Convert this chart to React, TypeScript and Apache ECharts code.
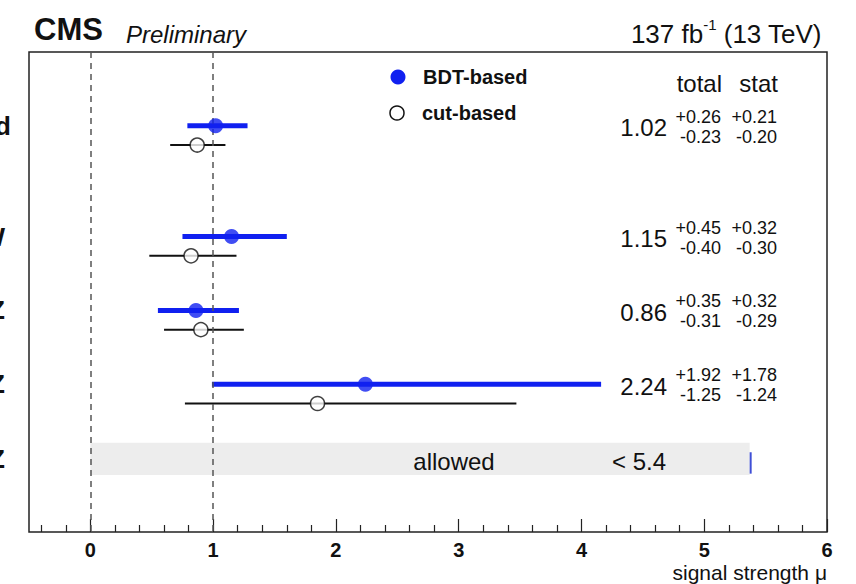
import React, { useEffect, useRef } from "react";
import * as echarts from "echarts";

// ---- data ----
const rows = ["Combined", "WWW", "WWZ", "WZZ", "ZZZ"];
const rowPos = [1.0, 2.5, 3.5, 4.5, 5.51];
const cutOffset = 0.26;

const bdtMu = [1.02, 1.15, 0.86, 2.24];
const totUp = [0.26, 0.45, 0.35, 1.92];
const totDn = [0.23, 0.40, 0.31, 1.25];
const statUp = [0.21, 0.32, 0.32, 1.78];
const statDn = [0.20, 0.30, 0.29, 1.24];

const cutMu = [0.87, 0.82, 0.90, 1.85];
const cutLo = [0.65, 0.48, 0.60, 0.77];
const cutHi = [1.10, 1.19, 1.25, 3.47];

const zzzLimit = 5.37;
const zzzLimitLabel = "< 5.4";

const majorTicks = [0, 1, 2, 3, 4, 5, 6];
const minorTicks: number[] = [];
for (let i = -2; i <= 30; i++) {
  if (i % 5 !== 0) minorTicks.push(Math.round(i * 20) / 100);
}

const BLUE = "#1020f0";
const FONT = "'Liberation Sans', Arial, Helvetica, sans-serif";

export default function App() {
  const ref = useRef<HTMLDivElement>(null);
  useEffect(() => {
    if (!ref.current) return;
    const chart = echarts.init(ref.current, null, { renderer: "svg" });

    const bdtBars = bdtMu.map((m, i) => [m - totDn[i], m + totUp[i], rowPos[i]]);
    const cutBars = cutMu.map((m, i) => [cutLo[i], cutHi[i], rowPos[i] + cutOffset]);

    const errRender = (color: string, width: number) => (params: any, api: any) => {
      const a = api.coord([api.value(0), api.value(2)]);
      const b = api.coord([api.value(1), api.value(2)]);
      return {
        type: "line",
        shape: { x1: a[0], y1: a[1], x2: b[0], y2: b[1] },
        style: { stroke: color, lineWidth: width },
      };
    };

    const gridBox = { left: 29, top: 52, width: 798, height: 480, containLabel: false, outerBoundsMode: "none" };

    const option: any = {
      animation: false,
      backgroundColor: "#fff",
      textStyle: { fontFamily: FONT },
      grid: [
        {
          ...gridBox,
          show: true,
          borderColor: "#222",
          borderWidth: 1.5,
          backgroundColor: "transparent",
        },
        { ...gridBox, show: false },
      ],
      xAxis: [
        {
          type: "value",
          gridIndex: 0,
          min: -0.5,
          max: 6,
          position: "bottom",
          axisLine: { show: false, onZero: false },
          splitLine: { show: false },
          axisTick: {
            show: true,
            inside: true,
            length: 13,
            customValues: majorTicks,
            lineStyle: { color: "#222", width: 1.2 },
          },
          axisLabel: {
            customValues: majorTicks,
            fontWeight: "bold",
            fontSize: 20,
            color: "#111",
            margin: 8,
            fontFamily: FONT,
          },
        },
        {
          type: "value",
          gridIndex: 1,
          min: -0.5,
          max: 6,
          position: "bottom",
          axisLine: { show: false, onZero: false },
          splitLine: { show: false },
          axisTick: {
            show: true,
            inside: true,
            length: 7,
            customValues: minorTicks,
            lineStyle: { color: "#222", width: 1.2 },
          },
          axisLabel: { show: true, customValues: minorTicks, formatter: () => "" },
        },
      ],
      yAxis: [
        {
          type: "value",
          gridIndex: 0,
          inverse: true,
          min: 0,
          max: 6.5,
          axisLine: { show: false, onZero: false },
          axisTick: { show: false },
          splitLine: { show: false },
          axisLabel: {
            customValues: rowPos,
            formatter: (v: number) => {
              const i = rowPos.findIndex((p) => Math.abs(p - v) < 1e-6);
              if (i < 0) return "";
              return i === 0 ? "{c|" + rows[i] + "}" : "{o|" + rows[i] + "}";
            },
            rich: {
              c: { fontWeight: "bold", fontSize: 26, color: "#111", fontFamily: FONT },
              o: { fontWeight: "bold", fontSize: 26, color: "#111", fontFamily: FONT, padding: [0, 6, 0, 0] },
            },
            margin: 18,
          },
        },
        {
          type: "value",
          gridIndex: 1,
          show: false,
          min: 0,
          max: 1,
          axisLine: { onZero: false },
        },
      ],
      title: [
        {
          text: "CMS",
          left: 29,
          top: 9,
          textStyle: { fontSize: 31, fontWeight: "bold", color: "#111", fontFamily: FONT },
        },
        {
          text: "Preliminary",
          left: 121,
          top: 17,
          textStyle: { fontSize: 24, fontStyle: "italic", fontWeight: "normal", color: "#111", fontFamily: FONT },
        },
        {
          text: "{a|137 fb}{s|-1}{a| (13 TeV)}",
          right: 29,
          top: 12,
          textStyle: {
            fontFamily: FONT,
            fontWeight: "normal",
            rich: {
              a: { fontSize: 26, fontWeight: "normal", color: "#111", lineHeight: 30, verticalAlign: "bottom", fontFamily: FONT },
              s: { fontSize: 15, fontWeight: "normal", color: "#111", lineHeight: 30, verticalAlign: "top", fontFamily: FONT },
            },
          },
        },
      ],
      series: [
        {
          type: "custom",
          name: "zzz",
          xAxisIndex: 0,
          yAxisIndex: 0,
          data: [[0, zzzLimit, rowPos[4]]],
          renderItem: (params: any, api: any) => {
            const y = api.value(2);
            const p0 = api.coord([api.value(0), y - 0.217]);
            const p1 = api.coord([api.value(1), y + 0.217]);
            const l0 = api.coord([api.value(1), y - 0.09]);
            const l1 = api.coord([api.value(1), y + 0.2]);
            const yc = api.coord([0, y])[1] + 3;
            return {
              type: "group",
              children: [
                {
                  type: "rect",
                  shape: { x: p0[0], y: p0[1], width: p1[0] - p0[0], height: p1[1] - p0[1] },
                  style: { fill: "#ededed" },
                },
                {
                  type: "line",
                  shape: { x1: l0[0] + 1, y1: l0[1], x2: l1[0] + 1, y2: l1[1] },
                  style: { stroke: "#3f4fd6", lineWidth: 2 },
                },
                {
                  type: "text",
                  style: { text: "allowed", x: 454, y: yc, align: "center", verticalAlign: "middle", fontSize: 24, fill: "#111", fontFamily: FONT },
                },
                {
                  type: "text",
                  style: { text: zzzLimitLabel, x: 639, y: yc, align: "center", verticalAlign: "middle", fontSize: 24, fill: "#111", fontFamily: FONT },
                },
              ],
            };
          },
          markLine: {
            silent: true,
            symbol: ["none", "none"],
            label: { show: false },
            lineStyle: { type: [6, 5], color: "#555", width: 1.5 },
            data: [{ xAxis: 0 }, { xAxis: 1 }],
          },
          z: 1,
        },
        {
          type: "custom",
          name: "cutErr",
          data: cutBars,
          renderItem: errRender("#111", 2),
          z: 2,
        },
        {
          type: "custom",
          name: "bdtErr",
          data: bdtBars,
          renderItem: errRender(BLUE, 5),
          z: 3,
        },
        {
          type: "scatter",
          name: "cut-based",
          data: cutMu.map((m, i) => [m, rowPos[i] + cutOffset]),
          symbol: "circle",
          symbolSize: 14,
          itemStyle: { color: "#fff", borderColor: "#111", borderWidth: 1.5 },
          z: 4,
        },
        {
          type: "scatter",
          name: "BDT-based",
          data: bdtMu.map((m, i) => [m, rowPos[i]]),
          symbol: "circle",
          symbolSize: 15,
          itemStyle: { color: BLUE },
          z: 5,
        },
        {
          type: "custom",
          name: "values",
          data: bdtMu.map((m, i) => [m, rowPos[i], i]),
          renderItem: (params: any, api: any) => {
            const i = api.value(2);
            const yc = api.coord([0, api.value(1)])[1] + 2;
            const t = (text: string, x: number, y: number, size: number) => ({
              type: "text",
              style: { text, x, y, align: "right", verticalAlign: "middle", fontSize: size, fill: "#111", fontFamily: FONT },
            });
            return {
              type: "group",
              children: [
                t(bdtMu[i].toFixed(2), 667, yc, 24),
                t("+" + totUp[i].toFixed(2), 721, yc - 11, 18),
                t("-" + totDn[i].toFixed(2), 721, yc + 9, 18),
                t("+" + statUp[i].toFixed(2), 777, yc - 11, 18),
                t("-" + statDn[i].toFixed(2), 777, yc + 9, 18),
              ],
            };
          },
          z: 6,
        },
      ],
      graphic: [
        { type: "circle", shape: { cx: 398, cy: 77, r: 7.5 }, style: { fill: BLUE } },
        {
          type: "text",
          style: { text: "BDT-based", x: 423, y: 77, verticalAlign: "middle", fontSize: 20, fontWeight: "bold", fill: "#111", fontFamily: FONT },
        },
        { type: "circle", shape: { cx: 397, cy: 113, r: 7 }, style: { fill: "#fff", stroke: "#111", lineWidth: 1.5 } },
        {
          type: "text",
          style: { text: "cut-based", x: 422, y: 113, verticalAlign: "middle", fontSize: 20, fontWeight: "bold", fill: "#111", fontFamily: FONT },
        },
        {
          type: "text",
          style: { text: "total", x: 722, y: 83, align: "right", verticalAlign: "middle", fontSize: 24, fill: "#111", fontFamily: FONT },
        },
        {
          type: "text",
          style: { text: "stat", x: 778, y: 83, align: "right", verticalAlign: "middle", fontSize: 24, fill: "#111", fontFamily: FONT },
        },
        {
          type: "text",
          style: { text: "signal strength μ", x: 827, y: 572, align: "right", verticalAlign: "middle", fontSize: 21, fill: "#111", fontFamily: FONT },
        },
      ],
    };

    chart.setOption(option);
    return () => chart.dispose();
  }, []);

  return (
    <div
      ref={ref}
      style={{ position: "absolute", left: 0, top: 0, width: 856, height: 584, background: "#fff" }}
    />
  );
}
